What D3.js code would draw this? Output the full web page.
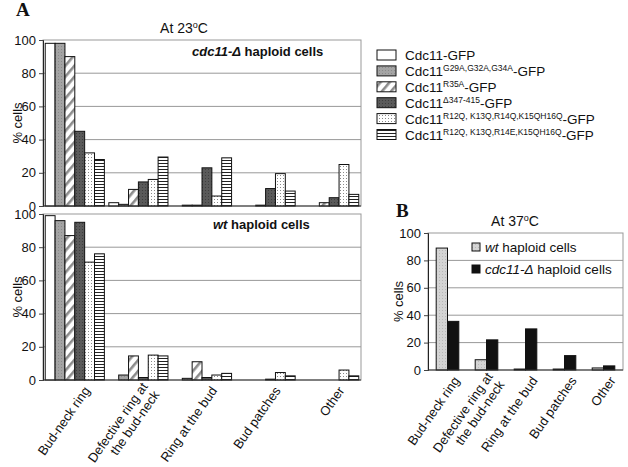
<!DOCTYPE html>
<html><head><meta charset="utf-8">
<script src="https://cdn.jsdelivr.net/npm/d3@7"></script>
<style>body{margin:0;background:#fff}text{font-family:"Liberation Sans",Arial,sans-serif;fill:#111}</style>
</head><body><svg id="c" width="628" height="467"></svg>
<script>
// ---------- data ----------
const categories = ["Bud-neck ring", "Defective ring at\nthe bud-neck", "Ring at the bud", "Bud patches", "Other"];
const yTicks = [0, 20, 40, 60, 80, 100];
const seriesBase = ["Cdc11", "Cdc11", "Cdc11", "Cdc11", "Cdc11", "Cdc11"];
const seriesSup = ["", "G29A,G32A,G34A", "R35A", "\u0394347-415", "R12Q, K13Q,R14Q,K15QH16Q", "R12Q, K13Q,R14E,K15QH16Q"];
const seriesSuffix = ["-GFP", "-GFP", "-GFP", "-GFP", "-GFP", "-GFP"];
// cdc11-Δ haploid cells, 23°C (one array per series, across categories)
const cdcWild = [98, 2, 0, 0, 0];
const cdcG29A = [98, 1, 0.5, 0, 0];
const cdcR35A = [90, 10, 0.5, 0.5, 2];
const cdcDelta = [45, 14.5, 23, 10.5, 5];
const cdcR14Q = [32, 16, 6, 19.5, 25];
const cdcR14E = [28, 29.5, 29, 9, 7];
// wt haploid cells, 23°C
const wtWild = [99, 0, 0, 0, 0];
const wtG29A = [96, 3, 1, 0, 0];
const wtR35A = [87, 14.5, 11, 0, 0];
const wtDelta = [95, 1.5, 1.5, 0.5, 0];
const wtR14Q = [71, 15, 3, 4.5, 6];
const wtR14E = [76, 14.5, 4, 2.5, 2.5];
// 37°C
const bSeries = ["wt", "cdc11-\u0394"];
const b37wt = [89, 7.5, 0.7, 0.7, 1.5];
const b37cdc = [35.5, 22, 30, 10.5, 3];

// ---------- drawing ----------
const svg = d3.select("#c");
const defs = svg.append("defs");
function pat(id, w, h, bg, draw, tr) {
  const p = defs.append("pattern").attr("id", id).attr("patternUnits", "userSpaceOnUse").attr("width", w).attr("height", h);
  if (tr) p.attr("patternTransform", tr);
  p.append("rect").attr("width", w).attr("height", h).attr("fill", bg);
  draw(p);
}
pat("pGray", 3, 3, "#a4a4a4", p => p.append("rect").attr("x", 1).attr("y", 1).attr("width", 1).attr("height", 1).attr("fill", "#8a8a8a"));
pat("pHatch", 7, 7, "#fff", p => p.append("rect").attr("x", 0).attr("y", 0).attr("width", 2.6).attr("height", 7).attr("fill", "#8c8c8c"), "rotate(40)");
pat("pDark", 3, 3, "#5a5a5a", p => p.append("rect").attr("x", 1).attr("y", 1).attr("width", 1).attr("height", 1).attr("fill", "#3e3e3e"));
pat("pDot", 3, 3, "#fff", p => p.append("rect").attr("x", 1).attr("y", 1).attr("width", 1).attr("height", 1).attr("fill", "#8a8a8a"));
pat("pLines", 4, 3, "#fff", p => p.append("rect").attr("x", 0).attr("y", 1).attr("width", 4).attr("height", 1).attr("fill", "#222"));
pat("pLight", 3, 3, "#d4d4d4", p => p.append("rect").attr("x", 1).attr("y", 1).attr("width", 1).attr("height", 1).attr("fill", "#b8b8b8"));
const fills = ["#fff", "url(#pGray)", "url(#pHatch)", "url(#pDark)", "url(#pDot)", "url(#pLines)"];
const bFills = ["url(#pLight)", "#111"];

const fs = 13;
function panel(cfg) {
  const { x0r, y0, y1, series, fillArr, yLabelX, pad, grid } = cfg;
  const x0 = d3.scaleBand().domain(categories).range(x0r).paddingInner(pad[0]).paddingOuter(pad[1]);
  const x1 = d3.scaleBand().domain(d3.range(series.length)).range([0, x0.bandwidth()]);
  const y = d3.scaleLinear().domain([0, 100]).range([y0, y1]);
  const g = svg.append("g");
  // frame + grid
  g.append("rect").attr("x", x0r[0]).attr("y", y1).attr("width", x0r[1] - x0r[0]).attr("height", y0 - y1)
    .attr("fill", "none").attr("stroke", "#999").attr("stroke-width", 1);
  g.selectAll(".grid").data(yTicks.filter(t => t > 0 && t < 100)).join("line")
    .attr("x1", x0r[0]).attr("x2", x0r[1]).attr("y1", d => y(d)).attr("y2", d => y(d))
    .attr("stroke", "#999").attr("stroke-width", 1);
  // bars
  series.forEach((vals, si) => {
    g.selectAll(null).data(vals).join("rect")
      .attr("x", (d, i) => x0(categories[i]) + x1(si)).attr("width", x1.bandwidth())
      .attr("y", d => y(d)).attr("height", d => y0 - y(d))
      .attr("fill", fillArr[si]).attr("stroke", "#111").attr("stroke-width", d => d > 0 ? 1 : 0);
  });
  // axes
  const ya = g.append("g").attr("transform", `translate(${x0r[0]},0)`)
    .call(d3.axisLeft(y).tickValues(yTicks).tickSize(4).tickPadding(3));
  ya.select(".domain").attr("stroke", "#222");
  ya.selectAll("text").attr("font-size", fs).attr("fill", "#111").style("font-family", '"Liberation Sans",Arial');
  ya.selectAll(".tick line").attr("stroke", "#444");
  g.append("line").attr("x1", x0r[0]).attr("x2", x0r[1]).attr("y1", y0).attr("y2", y0).attr("stroke", "#333");
  g.append("text").attr("transform", `translate(${yLabelX},${(y0 + y1) / 2}) rotate(-90)`)
    .attr("text-anchor", "middle").attr("font-size", fs).text("% cells");
  return { x0, y };
}
function catLabels(x0, axisY, dx, dy) {
  categories.forEach(c => {
    const lines = c.split("\n");
    const t = svg.append("text").attr("font-size", fs).attr("text-anchor", "end")
      .attr("transform", `translate(${x0(c) + x0.bandwidth() / 2 + dx},${axisY + dy}) rotate(-55)`);
    lines.forEach((l, i) => t.append("tspan").attr("x", 0).attr("y", (i - (lines.length - 1) / 2) * fs * 1.1).attr("dy", "0.35em").text(l));
  });
}

// Panel A top
const topA = panel({ x0r: [43, 361], y0: 206, y1: 40, pad: [0.07, 0.035], yLabelX: 22,
  series: [cdcWild, cdcG29A, cdcR35A, cdcDelta, cdcR14Q, cdcR14E], fillArr: fills });
// Panel A bottom
const botA = panel({ x0r: [43, 361], y0: 380, y1: 214, pad: [0.07, 0.035], yLabelX: 22,
  series: [wtWild, wtG29A, wtR35A, wtDelta, wtR14Q, wtR14E], fillArr: fills });
catLabels(botA.x0, 380, 12, 8);
// Panel B
const pB = panel({ x0r: [428, 623], y0: 370, y1: 233, pad: [0.42, 0.21], yLabelX: 403,
  series: [b37wt, b37cdc], fillArr: bFills });
catLabels(pB.x0, 370, 9, 8);

// Titles and labels
svg.append("text").attr("x", 16).attr("y", 16).attr("font-size", 19).attr("font-weight", "bold")
  .style("font-family", '"Liberation Serif","Times New Roman",serif').text("A");
svg.append("text").attr("x", 396).attr("y", 217).attr("font-size", 19).attr("font-weight", "bold")
  .style("font-family", '"Liberation Serif","Times New Roman",serif').text("B");
function title(x, y, num) {
  const t = svg.append("text").attr("x", x).attr("y", y).attr("font-size", 14).attr("text-anchor", "middle");
  t.append("tspan").text("At " + num);
  t.append("tspan").attr("font-size", 9).attr("dy", -5).text("o");
  t.append("tspan").attr("dy", 5).text("C");
}
title(184, 33, "23");
title(515, 226, "37");
const t1 = svg.append("text").attr("x", 192).attr("y", 56).attr("font-size", 13).attr("font-weight", "bold");
t1.append("tspan").attr("font-style", "italic").text("cdc11-\u0394");
t1.append("tspan").text(" haploid cells");
const t2 = svg.append("text").attr("x", 213).attr("y", 229).attr("font-size", 13).attr("font-weight", "bold");
t2.append("tspan").attr("font-style", "italic").text("wt");
t2.append("tspan").text(" haploid cells");

// Legend A
const lg = svg.append("g");
seriesBase.forEach((b, i) => {
  const yy = 50 + i * 15.9;
  lg.append("rect").attr("x", 377).attr("y", yy).attr("width", 19).attr("height", 10)
    .attr("fill", fills[i]).attr("stroke", "#111");
  const t = lg.append("text").attr("x", 405).attr("y", yy + 10).attr("font-size", 13.5);
  t.append("tspan").text(b);
  if (seriesSup[i]) t.append("tspan").attr("font-size", 8.5).attr("dy", -5).text(seriesSup[i]);
  t.append("tspan").attr("dy", seriesSup[i] ? 5 : 0).text(seriesSuffix[i]);
});
// Legend B
bSeries.forEach((s, i) => {
  const yy = 243 + i * 22;
  svg.append("rect").attr("x", 472).attr("y", yy).attr("width", 8).attr("height", 8)
    .attr("fill", bFills[i]).attr("stroke", "#111");
  const t = svg.append("text").attr("x", 485).attr("y", yy + 9).attr("font-size", 13.5);
  t.append("tspan").attr("font-style", "italic").text(s);
  t.append("tspan").text(" haploid cells");
});
</script></body></html>
